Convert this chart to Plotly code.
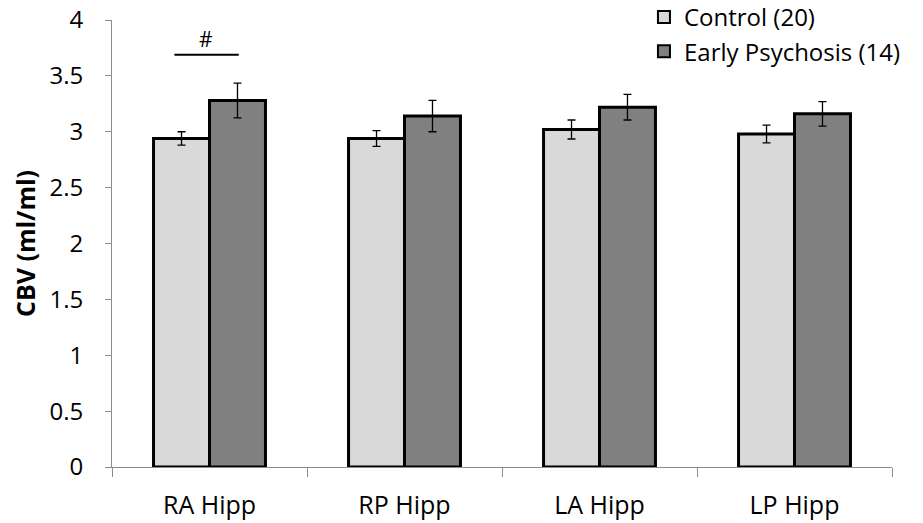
import plotly.graph_objects as go

categories = ["RA Hipp", "RP Hipp", "LA Hipp", "LP Hipp"]
control_vals = [2.94, 2.94, 3.02, 2.98]
control_err = [0.06, 0.07, 0.085, 0.08]
ep_vals = [3.28, 3.14, 3.22, 3.16]
ep_err = [0.155, 0.14, 0.115, 0.11]
series_names = ["Control (20)", "Early Psychosis (14)"]
y_ticks = [0, 0.5, 1, 1.5, 2, 2.5, 3, 3.5, 4]
y_tick_labels = ["0", "0.5", "1", "1.5", "2", "2.5", "3", "3.5", "4"]
sig_label = "#"
sig_level = 3.69

FONT = "Open Sans"

fig = go.Figure()
fig.add_trace(go.Bar(
    x=categories, y=control_vals, name=series_names[0],
    marker=dict(color="#d9d9d9", line=dict(color="black", width=3)),
    error_y=dict(type="data", array=control_err, color="black", thickness=1.3, width=4),
))
fig.add_trace(go.Bar(
    x=categories, y=ep_vals, name=series_names[1],
    marker=dict(color="#808080", line=dict(color="black", width=3)),
    error_y=dict(type="data", array=ep_err, color="black", thickness=1.3, width=4),
))

# significance bar over first category
fig.add_shape(type="line", xref="x", yref="y",
              x0=0 - 0.18, x1=0 + 0.15, y0=sig_level, y1=sig_level,
              line=dict(color="black", width=2))
fig.add_annotation(x=0 - 0.02, y=sig_level, xref="x", yref="y", text=sig_label,
                   showarrow=False, yanchor="bottom", yshift=0,
                   font=dict(family=FONT, size=21, color="black"))

fig.update_layout(
    width=923, height=523,
    margin=dict(l=112, r=31, t=20, b=56, autoexpand=False),
    paper_bgcolor="white", plot_bgcolor="white",
    barmode="group", bargap=0.426, bargroupgap=0,
    font=dict(family=FONT, size=22, color="black"),
    legend=dict(x=0.682, y=1.056, xanchor="left", yanchor="top",
                font=dict(family=FONT, size=24, color="black"),
                bgcolor="rgba(0,0,0,0)", itemsizing="constant",
                tracegroupgap=0, itemwidth=30),
    showlegend=True,
)
fig.update_yaxes(range=[0, 4], tickvals=y_ticks, ticktext=y_tick_labels,
                 showgrid=False, zeroline=False, automargin=False,
                 showline=True, linecolor="#8c8c8c", linewidth=1,
                 ticks="outside", ticklen=6, tickcolor="#8c8c8c",
                 ticklabelstandoff=17,
                 tickfont=dict(family=FONT, size=24),
                 title=dict(text="<b>CBV (ml/ml)</b>", font=dict(family=FONT, size=25), standoff=6))
fig.update_xaxes(showgrid=False, showline=True, linecolor="#8c8c8c", linewidth=1,
                 ticks="outside", ticklen=9, tickcolor="#8c8c8c", tickson="boundaries",
                 automargin=False, ticklabelstandoff=16,
                 tickfont=dict(family=FONT, size=25))

fig.write_html("out.html")
